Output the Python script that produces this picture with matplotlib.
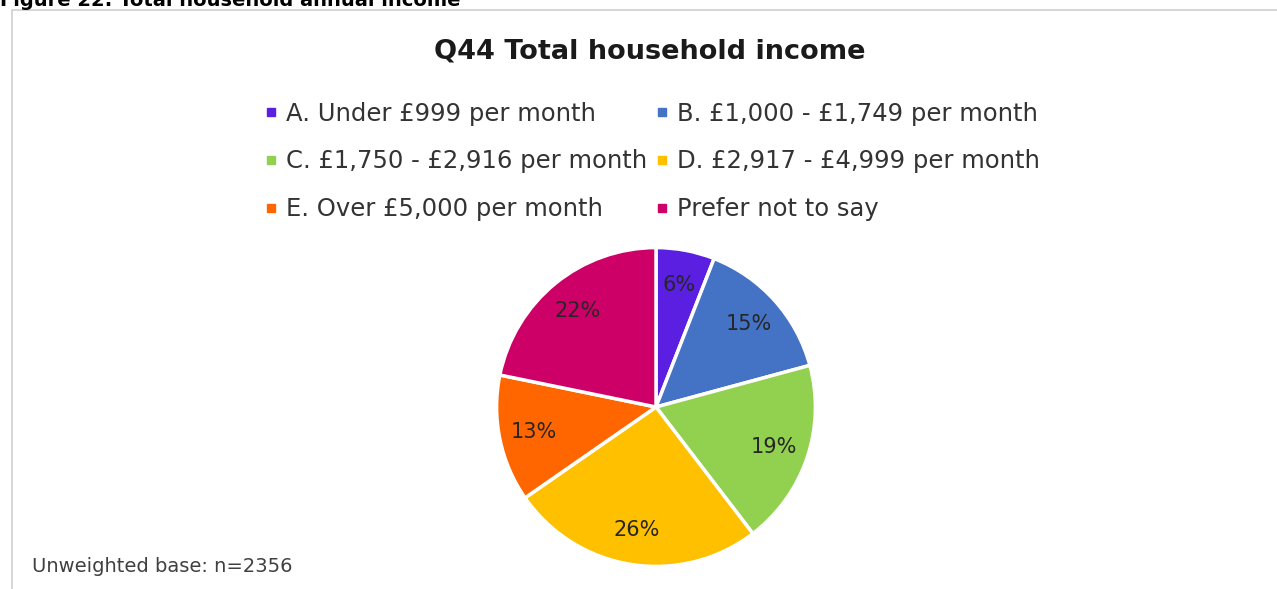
import matplotlib
matplotlib.use("Agg")
import matplotlib.pyplot as plt
from matplotlib.lines import Line2D
from matplotlib.patches import Rectangle

# Q44 inkomensverdeling
categorieen = ['A. Under £999 per month', 'B. £1,000 - £1,749 per month',
               'C. £1,750 - £2,916 per month', 'D. £2,917 - £4,999 per month',
               'E. Over £5,000 per month', 'Prefer not to say']
percentages = [6, 15, 19, 26, 13, 22]
kleuren = ['#5A1FE0', '#4472C4', '#92D050', '#FFC000', '#FF6600', '#CC0066']

plt.rcParams['font.family'] = ['DejaVu Sans']

W, H = 1277, 589
fig = plt.figure(figsize=(W / 100, H / 100), dpi=100)

# kader rond de grafiek
fig.patches.append(Rectangle((12 / W, -0.05), 1.1, (H - 10) / H + 0.05,
                             transform=fig.transFigure, fill=False,
                             edgecolor='#d0d0d0', linewidth=1.2))

# afgesneden figuurkop
fig.text(0.0, 1 - 6 / H, 'Figure 22: Total household annual income',
         fontsize=14, fontweight='bold', ha='left', va='baseline', color='black')

fig.text(650 / W, 1 - 52 / H, 'Q44 Total household income', fontsize=19.5,
         fontweight='bold', ha='center', va='center', color='#1a1a1a')

ax = fig.add_axes([495 / W, 21 / H, 322 / W, 322 / H])
wedges, teksten, pct_teksten = ax.pie(
    percentages, colors=kleuren, startangle=90, counterclock=False,
    autopct='%1.0f%%', pctdistance=0.78,
    wedgeprops=dict(edgecolor='white', linewidth=2.5),
    textprops=dict(fontsize=15, color='#262626'))
ax.set_xlim(-1.01, 1.01)
ax.set_ylim(-1.01, 1.01)

# legenda in rijen: A B / C D / E Prefer
handles = [Line2D([], [], marker='s', linestyle='', markersize=6,
                  color=k) for k in kleuren]
volgorde = [0, 2, 4, 1, 3, 5]
fig.legend([handles[i] for i in volgorde], [categorieen[i] for i in volgorde],
           ncol=2, loc='upper left', bbox_to_anchor=(243 / W, 1 - 80 / H),
           frameon=False, fontsize=17.5, handlelength=0.5, handletextpad=0.35,
           columnspacing=0.4, labelspacing=0.97, labelcolor='#333333')

fig.text(32 / W, 1 - 567 / H, 'Unweighted base: n=2356', fontsize=14,
         ha='left', va='center', color='#404040')

plt.savefig('out.png', dpi=100)
